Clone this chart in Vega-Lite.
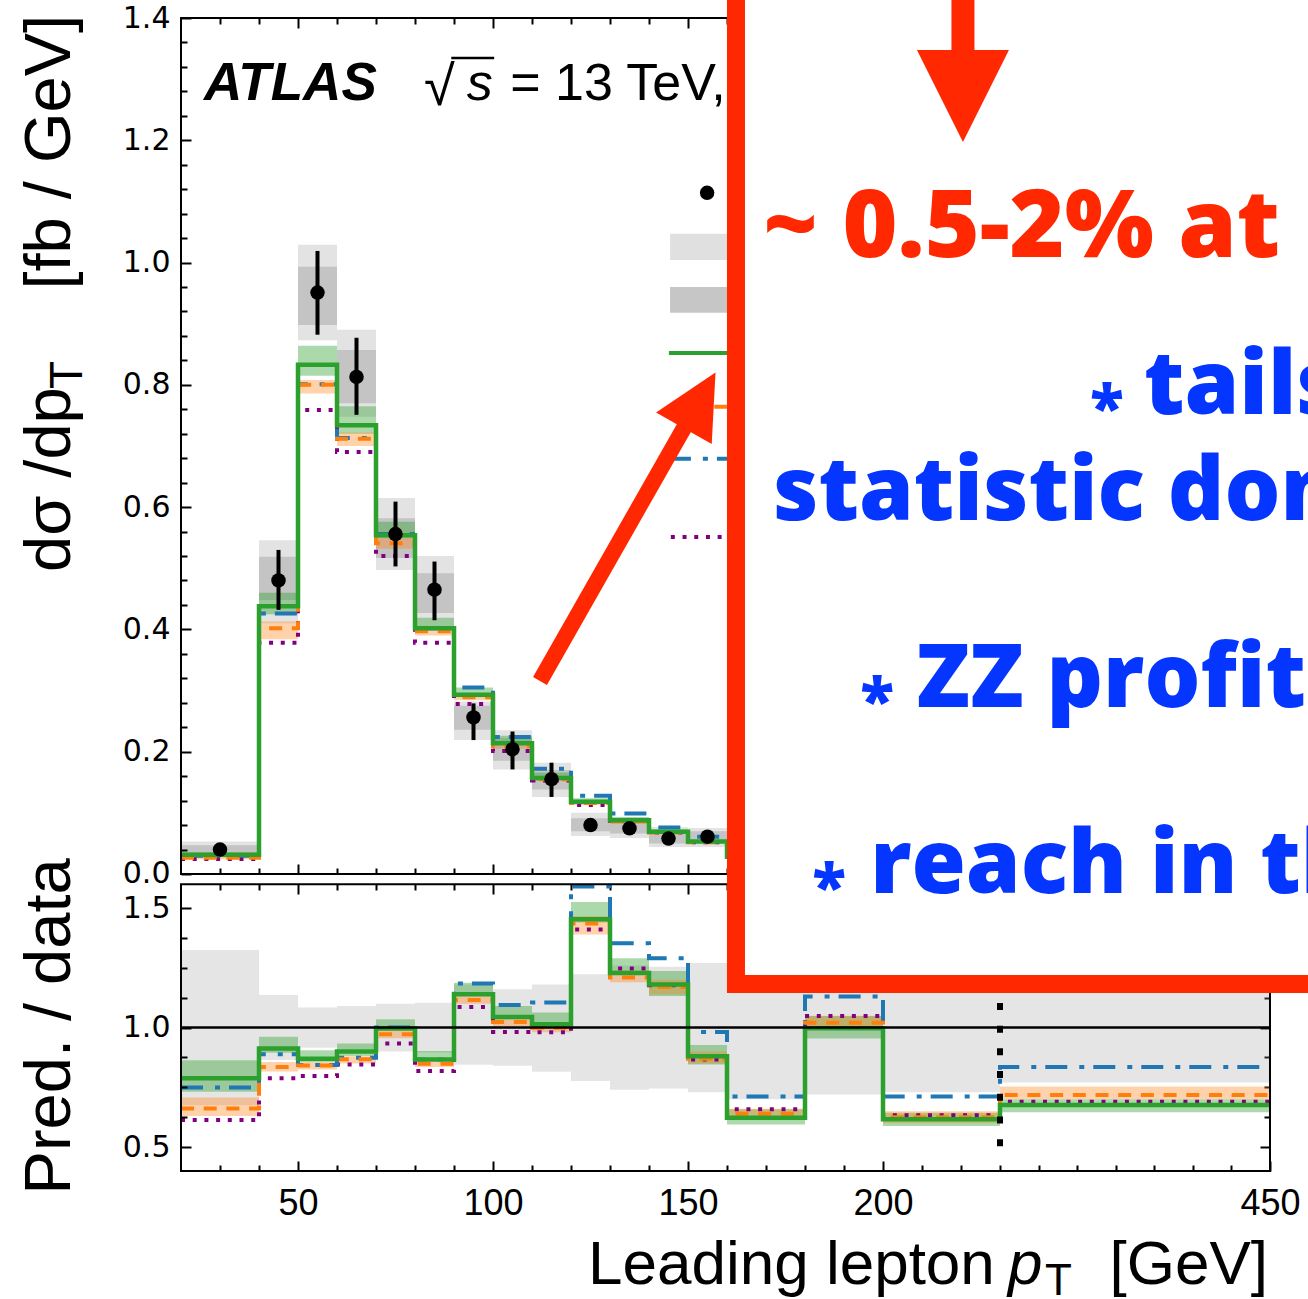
{
"$schema": "https://vega.github.io/schema/vega-lite/v6.json",
"width": 1089,
"height": 1153,
"autosize": {"type": "none"},
"padding": {"left": 181, "top": 18, "right": 38, "bottom": 128},
"background": "white",
"config": {
  "view": {"stroke": null},
  "axis": {"domain": false, "grid": false, "tickColor": "black", "tickWidth": 2, "labelColor": "black", "labelOverlap": false, "labelFlush": false, "labelBound": false}
},
"datasets": {
  "bins": [
    {"lo":20,"hi":40,"c":30,"d":0.040,"e0":0.036,"e1":0.044,"t0":0.027,"t1":0.053,"s0":0.033,"s1":0.047,"h0":0.675,"h1":1.325},
    {"lo":40,"hi":50,"c":45,"d":0.480,"e0":0.432,"e1":0.530,"t0":0.410,"t1":0.546,"s0":0.448,"s1":0.519,"h0":0.864,"h1":1.136},
    {"lo":50,"hi":60,"c":55,"d":0.951,"e0":0.882,"e1":1.019,"t0":0.873,"t1":1.029,"s0":0.898,"s1":0.993,"h0":0.916,"h1":1.084},
    {"lo":60,"hi":70,"c":65,"d":0.813,"e0":0.751,"e1":0.877,"t0":0.748,"t1":0.890,"s0":0.770,"s1":0.857,"h0":0.910,"h1":1.090},
    {"lo":70,"hi":80,"c":75,"d":0.556,"e0":0.503,"e1":0.609,"t0":0.497,"t1":0.615,"s0":0.517,"s1":0.582,"h0":0.900,"h1":1.100},
    {"lo":80,"hi":90,"c":85,"d":0.465,"e0":0.415,"e1":0.511,"t0":0.400,"t1":0.520,"s0":0.427,"s1":0.492,"h0":0.896,"h1":1.104},
    {"lo":90,"hi":100,"c":95,"d":0.256,"e0":0.219,"e1":0.279,"t0":0.219,"t1":0.282,"s0":0.236,"s1":0.275,"h0":0.845,"h1":1.180},
    {"lo":100,"hi":110,"c":105,"d":0.204,"e0":0.171,"e1":0.233,"t0":0.171,"t1":0.235,"s0":0.185,"s1":0.222,"h0":0.840,"h1":1.160},
    {"lo":110,"hi":120,"c":115,"d":0.155,"e0":0.126,"e1":0.182,"t0":0.126,"t1":0.182,"s0":0.138,"s1":0.170,"h0":0.815,"h1":1.180},
    {"lo":120,"hi":130,"c":125,"d":0.080,"e0":0.070,"e1":0.090,"t0":0.062,"t1":0.100,"s0":0.070,"s1":0.091,"h0":0.777,"h1":1.223},
    {"lo":130,"hi":140,"c":135,"d":0.0747,"e0":0.066,"e1":0.084,"t0":0.059,"t1":0.091,"s0":0.066,"s1":0.084,"h0":0.740,"h1":1.260},
    {"lo":140,"hi":150,"c":145,"d":0.058,"e0":0.052,"e1":0.064,"t0":0.044,"t1":0.077,"s0":0.050,"s1":0.068,"h0":0.745,"h1":1.255},
    {"lo":150,"hi":160,"c":155,"d":0.061,"e0":0.054,"e1":0.068,"t0":0.044,"t1":0.075,"s0":0.052,"s1":0.070,"h0":0.730,"h1":1.270},
    {"lo":160,"hi":180,"c":170,"d":0.045,"e0":0.039,"e1":0.051,"t0":0.031,"t1":0.059,"s0":0.038,"s1":0.053,"h0":0.700,"h1":1.300},
    {"lo":180,"hi":200,"c":190,"d":0.028,"e0":0.023,"e1":0.033,"t0":0.020,"t1":0.036,"s0":0.023,"s1":0.033,"h0":0.720,"h1":1.280},
    {"lo":200,"hi":230,"c":215,"d":0.020,"e0":0.016,"e1":0.024,"t0":0.014,"t1":0.026,"s0":0.016,"s1":0.024,"h0":0.730,"h1":1.270},
    {"lo":230,"hi":450,"c":340,"d":0.004,"e0":0.0033,"e1":0.0047,"t0":0.003,"t1":0.005,"s0":0.0034,"s1":0.0046,"h0":0.770,"h1":1.230}
  ],
  "pred": [
    {"m":"pred1","lo":20,"hi":40,"v":0.0315,"r":0.788,"vb0":0.029,"vb1":0.035,"rb0":0.732,"rb1":0.863},
    {"m":"pred1","lo":40,"hi":50,"v":0.438,"r":0.913,"vb0":0.425,"vb1":0.46,"rb0":0.895,"rb1":0.962},
    {"m":"pred1","lo":50,"hi":60,"v":0.833,"r":0.87,"vb0":0.815,"vb1":0.864,"rb0":0.855,"rb1":0.905},
    {"m":"pred1","lo":60,"hi":70,"v":0.734,"r":0.9,"vb0":0.72,"vb1":0.765,"rb0":0.881,"rb1":0.933},
    {"m":"pred1","lo":70,"hi":80,"v":0.554,"r":0.996,"vb0":0.55,"vb1":0.576,"rb0":0.996,"rb1":1.035},
    {"m":"pred1","lo":80,"hi":90,"v":0.402,"r":0.867,"vb0":0.399,"vb1":0.419,"rb0":0.86,"rb1":0.902},
    {"m":"pred1","lo":90,"hi":100,"v":0.293,"r":1.139,"vb0":0.289,"vb1":0.305,"rb0":1.132,"rb1":1.188},
    {"m":"pred1","lo":100,"hi":110,"v":0.214,"r":1.044,"vb0":0.211,"vb1":0.226,"rb0":1.035,"rb1":1.09},
    {"m":"pred1","lo":110,"hi":120,"v":0.157,"r":1.014,"vb0":0.154,"vb1":0.166,"rb0":1.007,"rb1":1.063},
    {"m":"pred1","lo":120,"hi":130,"v":0.118,"r":1.453,"vb0":0.115,"vb1":0.124,"rb0":1.44,"rb1":1.525},
    {"m":"pred1","lo":130,"hi":140,"v":0.088,"r":1.228,"vb0":0.086,"vb1":0.093,"rb0":1.22,"rb1":1.29},
    {"m":"pred1","lo":140,"hi":150,"v":0.069,"r":1.18,"vb0":0.067,"vb1":0.073,"rb0":1.132,"rb1":1.237},
    {"m":"pred1","lo":150,"hi":160,"v":0.053,"r":0.88,"vb0":0.051,"vb1":0.056,"rb0":0.846,"rb1":0.927},
    {"m":"pred1","lo":160,"hi":180,"v":0.028,"r":0.623,"vb0":0.027,"vb1":0.03,"rb0":0.595,"rb1":0.658},
    {"m":"pred1","lo":180,"hi":200,"v":0.028,"r":0.997,"vb0":0.027,"vb1":0.03,"rb0":0.954,"rb1":1.049},
    {"m":"pred1","lo":200,"hi":230,"v":0.0123,"r":0.616,"vb0":0.0118,"vb1":0.013,"rb0":0.588,"rb1":0.644},
    {"m":"pred1","lo":230,"hi":450,"v":0.0027,"r":0.676,"vb0":0.0026,"vb1":0.0029,"rb0":0.646,"rb1":0.7},
    {"m":"pred2","lo":20,"hi":40,"v":0.0264,"r":0.661,"vb0":0.024,"vb1":0.028,"rb0":0.63,"rb1":0.707},
    {"m":"pred2","lo":40,"hi":50,"v":0.402,"r":0.835,"vb0":0.384,"vb1":0.413,"rb0":0.816,"rb1":0.856},
    {"m":"pred2","lo":50,"hi":60,"v":0.8,"r":0.841,"vb0":0.786,"vb1":0.808,"rb0":0.825,"rb1":0.855},
    {"m":"pred2","lo":60,"hi":70,"v":0.712,"r":0.868,"vb0":0.7,"vb1":0.722,"rb0":0.85,"rb1":0.88},
    {"m":"pred2","lo":70,"hi":80,"v":0.541,"r":0.972,"vb0":0.532,"vb1":0.55,"rb0":0.955,"rb1":0.99},
    {"m":"pred2","lo":80,"hi":90,"v":0.397,"r":0.849,"vb0":0.39,"vb1":0.405,"rb0":0.835,"rb1":0.865},
    {"m":"pred2","lo":90,"hi":100,"v":0.289,"r":1.115,"vb0":0.284,"vb1":0.295,"rb0":1.1,"rb1":1.14},
    {"m":"pred2","lo":100,"hi":110,"v":0.209,"r":1.023,"vb0":0.205,"vb1":0.213,"rb0":1.005,"rb1":1.04},
    {"m":"pred2","lo":110,"hi":120,"v":0.155,"r":0.999,"vb0":0.152,"vb1":0.158,"rb0":0.98,"rb1":1.02},
    {"m":"pred2","lo":120,"hi":130,"v":0.116,"r":1.436,"vb0":0.113,"vb1":0.119,"rb0":1.39,"rb1":1.467},
    {"m":"pred2","lo":130,"hi":140,"v":0.086,"r":1.21,"vb0":0.084,"vb1":0.089,"rb0":1.19,"rb1":1.24},
    {"m":"pred2","lo":140,"hi":150,"v":0.068,"r":1.17,"vb0":0.066,"vb1":0.07,"rb0":1.14,"rb1":1.2},
    {"m":"pred2","lo":150,"hi":160,"v":0.052,"r":0.87,"vb0":0.05,"vb1":0.054,"rb0":0.85,"rb1":0.9},
    {"m":"pred2","lo":160,"hi":180,"v":0.0285,"r":0.64,"vb0":0.027,"vb1":0.03,"rb0":0.62,"rb1":0.66},
    {"m":"pred2","lo":180,"hi":200,"v":0.0286,"r":1.02,"vb0":0.027,"vb1":0.03,"rb0":0.99,"rb1":1.05},
    {"m":"pred2","lo":200,"hi":230,"v":0.0125,"r":0.625,"vb0":0.012,"vb1":0.013,"rb0":0.6,"rb1":0.65},
    {"m":"pred2","lo":230,"hi":450,"v":0.0029,"r":0.718,"vb0":0.0028,"vb1":0.003,"rb0":0.7,"rb1":0.754},
    {"m":"pred3","lo":20,"hi":40,"v":0.030,"r":0.749},
    {"m":"pred3","lo":40,"hi":50,"v":0.426,"r":0.888},
    {"m":"pred3","lo":50,"hi":60,"v":0.801,"r":0.844},
    {"m":"pred3","lo":60,"hi":70,"v":0.713,"r":0.874},
    {"m":"pred3","lo":70,"hi":80,"v":0.556,"r":1.0},
    {"m":"pred3","lo":80,"hi":90,"v":0.402,"r":0.866},
    {"m":"pred3","lo":90,"hi":100,"v":0.305,"r":1.184},
    {"m":"pred3","lo":100,"hi":110,"v":0.224,"r":1.095},
    {"m":"pred3","lo":110,"hi":120,"v":0.172,"r":1.105},
    {"m":"pred3","lo":120,"hi":130,"v":0.128,"r":1.59},
    {"m":"pred3","lo":130,"hi":140,"v":0.099,"r":1.353},
    {"m":"pred3","lo":140,"hi":150,"v":0.076,"r":1.29},
    {"m":"pred3","lo":150,"hi":160,"v":0.061,"r":0.982},
    {"m":"pred3","lo":160,"hi":180,"v":0.032,"r":0.712},
    {"m":"pred3","lo":180,"hi":200,"v":0.0316,"r":1.13},
    {"m":"pred3","lo":200,"hi":230,"v":0.0142,"r":0.712},
    {"m":"pred3","lo":230,"hi":450,"v":0.0033,"r":0.835},
    {"m":"pred4","lo":20,"hi":40,"v":0.0245,"r":0.613},
    {"m":"pred4","lo":40,"hi":50,"v":0.378,"r":0.788},
    {"m":"pred4","lo":50,"hi":60,"v":0.759,"r":0.797},
    {"m":"pred4","lo":60,"hi":70,"v":0.69,"r":0.846},
    {"m":"pred4","lo":70,"hi":80,"v":0.52,"r":0.933},
    {"m":"pred4","lo":80,"hi":90,"v":0.378,"r":0.818},
    {"m":"pred4","lo":90,"hi":100,"v":0.278,"r":1.086},
    {"m":"pred4","lo":100,"hi":110,"v":0.201,"r":0.982},
    {"m":"pred4","lo":110,"hi":120,"v":0.153,"r":0.98},
    {"m":"pred4","lo":120,"hi":130,"v":0.113,"r":1.41},
    {"m":"pred4","lo":130,"hi":140,"v":0.087,"r":1.247},
    {"m":"pred4","lo":140,"hi":150,"v":0.068,"r":1.177},
    {"m":"pred4","lo":150,"hi":160,"v":0.052,"r":0.867},
    {"m":"pred4","lo":160,"hi":180,"v":0.029,"r":0.658},
    {"m":"pred4","lo":180,"hi":200,"v":0.0294,"r":1.049},
    {"m":"pred4","lo":200,"hi":230,"v":0.0127,"r":0.633},
    {"m":"pred4","lo":230,"hi":450,"v":0.003,"r":0.69}
  ]
},
"resolve": {"scale": {"y": "independent"}, "axis": {"x": "independent", "y": "independent"}},
"layer": [
  {"data": {"name": "bins"},
   "mark": {"type": "rect", "fill": "#999999", "fillOpacity": 0.26, "strokeWidth": 0},
   "encoding": {
     "x": {"field": "lo", "type": "quantitative", "scale": {"domain": [20,230,450], "range": [0,819,1089], "nice": false, "zero": false},
           "axis": {"orient": "bottom", "values": [50,100,150,200,450], "tickSize": -10, "labelPadding": 25, "labelFont": "Liberation Sans", "labelFontSize": 36, "title": null, "zindex": 1}},
     "x2": {"field": "hi"},
     "y": {"field": "h0", "type": "quantitative", "scale": {"domain": [0.4,5.224], "nice": false, "zero": false},
           "axis": {"orient": "left", "values": [0.5,1.0,1.5], "format": ".1f", "tickSize": -10, "labelPadding": 21, "labelFont": "DejaVu Sans", "labelFontSize": 30, "title": null, "zindex": 1}},
     "y2": {"field": "h1"}}},
  {"data": {"name": "pred"}, "transform": [{"filter": "datum.m === 'pred1'"}],
   "mark": {"type": "rect", "fill": "#2ca02c", "fillOpacity": 0.4, "strokeWidth": 0},
   "encoding": {
     "x": {"field": "lo", "type": "quantitative", "scale": {"domain": [20,230,450], "range": [0,819,1089], "nice": false, "zero": false},
           "axis": {"orient": "bottom", "values": [30,40,60,70,80,90,110,120,130,140,160,170,180,190,210,220,230,261.43,292.86,324.29,355.71,387.14,418.57], "tickSize": -6, "labels": false, "title": null, "zindex": 1}},
     "x2": {"field": "hi"},
     "y": {"field": "rb0", "type": "quantitative", "scale": {"domain": [0.4,5.224], "nice": false, "zero": false},
           "axis": {"orient": "left", "values": [0.625,0.75,0.875,1.125,1.25,1.375], "tickSize": -6, "labels": false, "title": null, "zindex": 1}},
     "y2": {"field": "rb1"}}},
  {"data": {"name": "pred"}, "transform": [{"filter": "datum.m === 'pred2'"}],
   "mark": {"type": "rect", "fill": "#ff7f0e", "fillOpacity": 0.35, "strokeWidth": 0},
   "encoding": {
     "x": {"field": "lo", "type": "quantitative", "scale": {"domain": [20,230,450], "range": [0,819,1089], "nice": false, "zero": false},
           "axis": {"orient": "top", "offset": -866, "values": [50,100,150,200,450], "tickSize": -10, "labels": false, "title": null, "zindex": 0}},
     "x2": {"field": "hi"},
     "y": {"field": "rb0", "type": "quantitative", "scale": {"domain": [0.4,5.224], "nice": false, "zero": false},
           "axis": {"orient": "right", "values": [0.5,1.0,1.5], "tickSize": -10, "labels": false, "title": null, "zindex": 0}},
     "y2": {"field": "rb1"}}},
  {"data": {"name": "pred"}, "transform": [{"filter": "datum.m === 'pred4'"}, {"fold": ["lo","hi"], "as": ["edge","x"]}],
   "mark": {"type": "line", "color": "#800080", "strokeWidth": 4, "strokeDash": [4,7.7], "strokeCap": "butt"},
   "encoding": {
     "x": {"field": "x", "type": "quantitative", "scale": {"domain": [20,230,450], "range": [0,819,1089], "nice": false, "zero": false},
           "axis": {"orient": "top", "offset": -866, "values": [30,40,60,70,80,90,110,120,130,140,160,170,180,190,210,220,230,261.43,292.86,324.29,355.71,387.14,418.57], "tickSize": -6, "labels": false, "title": null, "zindex": 0}},
     "y": {"field": "r", "type": "quantitative", "scale": {"domain": [0.4,5.224], "nice": false, "zero": false},
           "axis": {"orient": "right", "values": [0.625,0.75,0.875,1.125,1.25,1.375], "tickSize": -6, "labels": false, "title": null, "zindex": 0}}}},
  {"data": {"name": "pred"}, "transform": [{"filter": "datum.m === 'pred3'"}, {"fold": ["lo","hi"], "as": ["edge","x"]}],
   "mark": {"type": "line", "color": "#1f77b4", "strokeWidth": 4, "strokeDash": [22,12,5,9], "strokeCap": "butt"},
   "encoding": {
     "x": {"field": "x", "type": "quantitative", "scale": {"domain": [20,230,450], "range": [0,819,1089], "nice": false, "zero": false},
           "axis": {"orient": "bottom", "offset": -297, "values": [50,100,150,200,450], "tickSize": -10, "labels": false, "title": null, "zindex": 0}},
     "y": {"field": "r", "type": "quantitative", "scale": {"domain": [0.4,5.224], "nice": false, "zero": false}, "axis": null}}},
  {"data": {"name": "pred"}, "transform": [{"filter": "datum.m === 'pred2'"}, {"fold": ["lo","hi"], "as": ["edge","x"]}],
   "mark": {"type": "line", "color": "#ff7f0e", "strokeWidth": 4, "strokeDash": [13,9.7], "strokeCap": "butt"},
   "encoding": {
     "x": {"field": "x", "type": "quantitative", "scale": {"domain": [20,230,450], "range": [0,819,1089], "nice": false, "zero": false},
           "axis": {"orient": "bottom", "offset": -297, "values": [30,40,60,70,80,90,110,120,130,140,160,170,180,190,210,220,230,261.43,292.86,324.29,355.71,387.14,418.57], "tickSize": -6, "labels": false, "title": null, "zindex": 0}},
     "y": {"field": "r", "type": "quantitative", "scale": {"domain": [0.4,5.224], "nice": false, "zero": false}, "axis": null}}},
  {"data": {"name": "pred"}, "transform": [{"filter": "datum.m === 'pred1'"}, {"fold": ["lo","hi"], "as": ["edge","x"]}],
   "mark": {"type": "line", "color": "#2ca02c", "strokeWidth": 4.5},
   "encoding": {
     "x": {"field": "x", "type": "quantitative", "scale": {"domain": [20,230,450], "range": [0,819,1089], "nice": false, "zero": false},
           "axis": {"orient": "top", "offset": 0, "values": [50,100,150,200,450], "tickSize": -10, "labels": false, "title": null, "zindex": 0}},
     "y": {"field": "r", "type": "quantitative", "scale": {"domain": [0.4,5.224], "nice": false, "zero": false}, "axis": null}}},
  {"data": {"values": [{}]},
   "mark": {"type": "rule", "color": "black", "strokeWidth": 2.5},
   "encoding": {
     "x": {"datum": 20, "type": "quantitative", "scale": {"domain": [20,230,450], "range": [0,819,1089], "nice": false, "zero": false}, "axis": null},
     "x2": {"datum": 450},
     "y": {"datum": 1.0, "type": "quantitative", "scale": {"domain": [0.4,5.224], "nice": false, "zero": false}, "axis": null}}},
  {"data": {"values": [{}]},
   "mark": {"type": "rule", "color": "black", "strokeWidth": 6, "strokeDash": [7,15.7], "strokeCap": "butt"},
   "encoding": {
     "x": {"datum": 230, "type": "quantitative", "scale": {"domain": [20,230,450], "range": [0,819,1089], "nice": false, "zero": false}, "axis": null},
     "y": {"datum": 0.504, "type": "quantitative", "scale": {"domain": [0.4,5.224], "nice": false, "zero": false}, "axis": null},
     "y2": {"datum": 1.6}}},
  {"data": {"name": "bins"},
   "mark": {"type": "rect", "fill": "#999999", "fillOpacity": 0.28, "strokeWidth": 0},
   "encoding": {
     "x": {"field": "lo", "type": "quantitative", "scale": {"domain": [20,230,450], "range": [0,819,1089], "nice": false, "zero": false},
           "axis": {"orient": "top", "offset": 0, "values": [30,40,60,70,80,90,110,120,130,140,160,170,180,190,210,220,230,261.43,292.86,324.29,355.71,387.14,418.57], "tickSize": -6, "labels": false, "title": null, "zindex": 0}},
     "x2": {"field": "hi"},
     "y": {"field": "t0", "type": "quantitative", "scale": {"domain": [-0.4858,1.4], "nice": false, "zero": false},
           "axis": {"orient": "left", "values": [0,0.2,0.4,0.6,0.8,1.0,1.2,1.4], "format": ".1f", "tickSize": -10, "labelPadding": 21, "labelFont": "DejaVu Sans", "labelFontSize": 30, "title": null, "zindex": 1}},
     "y2": {"field": "t1"}}},
  {"data": {"name": "bins"},
   "mark": {"type": "rect", "fill": "#666666", "fillOpacity": 0.25, "strokeWidth": 0},
   "encoding": {
     "x": {"field": "lo", "type": "quantitative", "scale": {"domain": [20,230,450], "range": [0,819,1089], "nice": false, "zero": false}, "axis": null},
     "x2": {"field": "hi"},
     "y": {"field": "s0", "type": "quantitative", "scale": {"domain": [-0.4858,1.4], "nice": false, "zero": false},
           "axis": {"orient": "left", "values": [0.04,0.08,0.12,0.16,0.24,0.28,0.32,0.36,0.44,0.48,0.52,0.56,0.64,0.68,0.72,0.76,0.84,0.88,0.92,0.96,1.04,1.08,1.12,1.16,1.24,1.28,1.32,1.36], "tickSize": -6, "labels": false, "title": null, "zindex": 1}},
     "y2": {"field": "s1"}}},
  {"data": {"name": "pred"}, "transform": [{"filter": "datum.m === 'pred1'"}],
   "mark": {"type": "rect", "fill": "#2ca02c", "fillOpacity": 0.4, "strokeWidth": 0},
   "encoding": {
     "x": {"field": "lo", "type": "quantitative", "scale": {"domain": [20,230,450], "range": [0,819,1089], "nice": false, "zero": false}, "axis": null},
     "x2": {"field": "hi"},
     "y": {"field": "vb0", "type": "quantitative", "scale": {"domain": [-0.4858,1.4], "nice": false, "zero": false}, "axis": null},
     "y2": {"field": "vb1"}}},
  {"data": {"name": "pred"}, "transform": [{"filter": "datum.m === 'pred2'"}],
   "mark": {"type": "rect", "fill": "#ff7f0e", "fillOpacity": 0.35, "strokeWidth": 0},
   "encoding": {
     "x": {"field": "lo", "type": "quantitative", "scale": {"domain": [20,230,450], "range": [0,819,1089], "nice": false, "zero": false}, "axis": null},
     "x2": {"field": "hi"},
     "y": {"field": "vb0", "type": "quantitative", "scale": {"domain": [-0.4858,1.4], "nice": false, "zero": false}, "axis": null},
     "y2": {"field": "vb1"}}},
  {"data": {"name": "pred"}, "transform": [{"filter": "datum.m === 'pred4'"}, {"fold": ["lo","hi"], "as": ["edge","x"]}],
   "mark": {"type": "line", "color": "#800080", "strokeWidth": 4, "strokeDash": [4,7.7], "strokeCap": "butt"},
   "encoding": {
     "x": {"field": "x", "type": "quantitative", "scale": {"domain": [20,230,450], "range": [0,819,1089], "nice": false, "zero": false}, "axis": null},
     "y": {"field": "v", "type": "quantitative", "scale": {"domain": [-0.4858,1.4], "nice": false, "zero": false}, "axis": null}}},
  {"data": {"name": "pred"}, "transform": [{"filter": "datum.m === 'pred3'"}, {"fold": ["lo","hi"], "as": ["edge","x"]}],
   "mark": {"type": "line", "color": "#1f77b4", "strokeWidth": 4, "strokeDash": [22,12,5,9], "strokeCap": "butt"},
   "encoding": {
     "x": {"field": "x", "type": "quantitative", "scale": {"domain": [20,230,450], "range": [0,819,1089], "nice": false, "zero": false}, "axis": null},
     "y": {"field": "v", "type": "quantitative", "scale": {"domain": [-0.4858,1.4], "nice": false, "zero": false}, "axis": null}}},
  {"data": {"name": "pred"}, "transform": [{"filter": "datum.m === 'pred2'"}, {"fold": ["lo","hi"], "as": ["edge","x"]}],
   "mark": {"type": "line", "color": "#ff7f0e", "strokeWidth": 4, "strokeDash": [13,9.7], "strokeCap": "butt"},
   "encoding": {
     "x": {"field": "x", "type": "quantitative", "scale": {"domain": [20,230,450], "range": [0,819,1089], "nice": false, "zero": false}, "axis": null},
     "y": {"field": "v", "type": "quantitative", "scale": {"domain": [-0.4858,1.4], "nice": false, "zero": false}, "axis": null}}},
  {"data": {"name": "pred"}, "transform": [{"filter": "datum.m === 'pred1'"}, {"fold": ["lo","hi"], "as": ["edge","x"]}],
   "mark": {"type": "line", "color": "#2ca02c", "strokeWidth": 4.5},
   "encoding": {
     "x": {"field": "x", "type": "quantitative", "scale": {"domain": [20,230,450], "range": [0,819,1089], "nice": false, "zero": false}, "axis": null},
     "y": {"field": "v", "type": "quantitative", "scale": {"domain": [-0.4858,1.4], "nice": false, "zero": false}, "axis": null}}},
  {"data": {"name": "bins"},
   "mark": {"type": "rule", "color": "black", "strokeWidth": 4},
   "encoding": {
     "x": {"field": "c", "type": "quantitative", "scale": {"domain": [20,230,450], "range": [0,819,1089], "nice": false, "zero": false}, "axis": null},
     "y": {"field": "e0", "type": "quantitative", "scale": {"domain": [-0.4858,1.4], "nice": false, "zero": false}, "axis": null},
     "y2": {"field": "e1"}}},
  {"data": {"name": "bins"},
   "mark": {"type": "point", "filled": true, "color": "black", "opacity": 1, "size": 210},
   "encoding": {
     "x": {"field": "c", "type": "quantitative", "scale": {"domain": [20,230,450], "range": [0,819,1089], "nice": false, "zero": false}, "axis": null},
     "y": {"field": "d", "type": "quantitative", "scale": {"domain": [-0.4858,1.4], "nice": false, "zero": false}, "axis": null}}},
  {"data": {"values": [{}]},
   "mark": {"type": "point", "filled": true, "color": "black", "opacity": 1, "size": 210},
   "encoding": {
     "x": {"datum": 154.9, "type": "quantitative", "scale": {"domain": [20,230,450], "range": [0,819,1089], "nice": false, "zero": false}, "axis": null},
     "y": {"datum": 1.114, "type": "quantitative", "scale": {"domain": [-0.4858,1.4], "nice": false, "zero": false}, "axis": null}}},
  {"data": {"values": [{}]},
   "mark": {"type": "rect", "fill": "#999999", "fillOpacity": 0.3, "strokeWidth": 0},
   "encoding": {
     "x": {"datum": 145.4, "type": "quantitative", "scale": {"domain": [20,230,450], "range": [0,819,1089], "nice": false, "zero": false}, "axis": null},
     "x2": {"datum": 170},
     "y": {"datum": 1.004, "type": "quantitative", "scale": {"domain": [-0.4858,1.4], "nice": false, "zero": false}, "axis": null},
     "y2": {"datum": 1.047}}},
  {"data": {"values": [{}]},
   "mark": {"type": "rect", "fill": "#777777", "fillOpacity": 0.42, "strokeWidth": 0},
   "encoding": {
     "x": {"datum": 145.4, "type": "quantitative", "scale": {"domain": [20,230,450], "range": [0,819,1089], "nice": false, "zero": false}, "axis": null},
     "x2": {"datum": 170},
     "y": {"datum": 0.918, "type": "quantitative", "scale": {"domain": [-0.4858,1.4], "nice": false, "zero": false}, "axis": null},
     "y2": {"datum": 0.96}}},
  {"data": {"values": [{}]},
   "mark": {"type": "rule", "color": "#2ca02c", "strokeWidth": 4},
   "encoding": {
     "x": {"datum": 145.1, "type": "quantitative", "scale": {"domain": [20,230,450], "range": [0,819,1089], "nice": false, "zero": false}, "axis": null},
     "x2": {"datum": 170},
     "y": {"datum": 0.852, "type": "quantitative", "scale": {"domain": [-0.4858,1.4], "nice": false, "zero": false}, "axis": null}}},
  {"data": {"values": [{}]},
   "mark": {"type": "rule", "color": "#ff7f0e", "strokeWidth": 4, "strokeDash": [13,9.7], "strokeCap": "butt"},
   "encoding": {
     "x": {"datum": 145.1, "type": "quantitative", "scale": {"domain": [20,230,450], "range": [0,819,1089], "nice": false, "zero": false}, "axis": null},
     "x2": {"datum": 170},
     "y": {"datum": 0.764, "type": "quantitative", "scale": {"domain": [-0.4858,1.4], "nice": false, "zero": false}, "axis": null}}},
  {"data": {"values": [{}]},
   "mark": {"type": "rule", "color": "#1f77b4", "strokeWidth": 4, "strokeDash": [22,12,5,9], "strokeCap": "butt"},
   "encoding": {
     "x": {"datum": 145.1, "type": "quantitative", "scale": {"domain": [20,230,450], "range": [0,819,1089], "nice": false, "zero": false}, "axis": null},
     "x2": {"datum": 170},
     "y": {"datum": 0.679, "type": "quantitative", "scale": {"domain": [-0.4858,1.4], "nice": false, "zero": false}, "axis": null}}},
  {"data": {"values": [{}]},
   "mark": {"type": "rule", "color": "#800080", "strokeWidth": 4, "strokeDash": [4,7.7], "strokeCap": "butt"},
   "encoding": {
     "x": {"datum": 145.6, "type": "quantitative", "scale": {"domain": [20,230,450], "range": [0,819,1089], "nice": false, "zero": false}, "axis": null},
     "x2": {"datum": 170},
     "y": {"datum": 0.551, "type": "quantitative", "scale": {"domain": [-0.4858,1.4], "nice": false, "zero": false}, "axis": null}}},
  {"data": {"values": [{}]},
   "mark": {"type": "text", "text": "ATLAS", "font": "Liberation Sans", "fontSize": 53, "fontWeight": "bold", "fontStyle": "italic", "align": "left", "baseline": "alphabetic", "color": "black"},
   "encoding": {
     "x": {"datum": 25.9, "type": "quantitative", "scale": {"domain": [20,230,450], "range": [0,819,1089], "nice": false, "zero": false}, "axis": null},
     "y": {"datum": 1.266, "type": "quantitative", "scale": {"domain": [-0.4858,1.4], "nice": false, "zero": false}, "axis": null}}},
  {"data": {"values": [{}]},
   "mark": {"type": "text", "text": "√", "font": "Liberation Sans", "fontSize": 56, "align": "left", "baseline": "alphabetic", "color": "black"},
   "encoding": {
     "x": {"datum": 82.3, "type": "quantitative", "scale": {"domain": [20,230,450], "range": [0,819,1089], "nice": false, "zero": false}, "axis": null},
     "y": {"datum": 1.258, "type": "quantitative", "scale": {"domain": [-0.4858,1.4], "nice": false, "zero": false}, "axis": null}}},
  {"data": {"values": [{}]},
   "mark": {"type": "rule", "color": "black", "strokeWidth": 2.5},
   "encoding": {
     "x": {"datum": 89.3, "type": "quantitative", "scale": {"domain": [20,230,450], "range": [0,819,1089], "nice": false, "zero": false}, "axis": null},
     "x2": {"datum": 100.3},
     "y": {"datum": 1.3346, "type": "quantitative", "scale": {"domain": [-0.4858,1.4], "nice": false, "zero": false}, "axis": null}}},
  {"data": {"values": [{}]},
   "mark": {"type": "text", "text": "s", "font": "Liberation Sans", "fontSize": 52, "fontStyle": "italic", "align": "left", "baseline": "alphabetic", "color": "black"},
   "encoding": {
     "x": {"datum": 93.3, "type": "quantitative", "scale": {"domain": [20,230,450], "range": [0,819,1089], "nice": false, "zero": false}, "axis": null},
     "y": {"datum": 1.266, "type": "quantitative", "scale": {"domain": [-0.4858,1.4], "nice": false, "zero": false}, "axis": null}}},
  {"data": {"values": [{}]},
   "mark": {"type": "text", "text": "= 13 TeV,", "font": "Liberation Sans", "fontSize": 52, "align": "left", "baseline": "alphabetic", "color": "black"},
   "encoding": {
     "x": {"datum": 104.4, "type": "quantitative", "scale": {"domain": [20,230,450], "range": [0,819,1089], "nice": false, "zero": false}, "axis": null},
     "y": {"datum": 1.266, "type": "quantitative", "scale": {"domain": [-0.4858,1.4], "nice": false, "zero": false}, "axis": null}}},
  {"data": {"values": [{}]},
   "mark": {"type": "text", "text": "dσ /dp", "font": "Liberation Sans", "fontSize": 65, "angle": 270, "align": "left", "baseline": "alphabetic", "color": "black"},
   "encoding": {
     "x": {"datum": -8.46, "type": "quantitative", "scale": {"domain": [20,230,450], "range": [0,819,1089], "nice": false, "zero": false}, "axis": null},
     "y": {"datum": 0.4939, "type": "quantitative", "scale": {"domain": [-0.4858,1.4], "nice": false, "zero": false}, "axis": null}}},
  {"data": {"values": [{}]},
   "mark": {"type": "text", "text": "T", "font": "Liberation Sans", "fontSize": 46, "angle": 270, "align": "left", "baseline": "alphabetic", "dy": 12, "color": "black"},
   "encoding": {
     "x": {"datum": -8.46, "type": "quantitative", "scale": {"domain": [20,230,450], "range": [0,819,1089], "nice": false, "zero": false}, "axis": null},
     "y": {"datum": 0.7933, "type": "quantitative", "scale": {"domain": [-0.4858,1.4], "nice": false, "zero": false}, "axis": null}}},
  {"data": {"values": [{}]},
   "mark": {"type": "text", "text": "[fb / GeV]", "font": "Liberation Sans", "fontSize": 65, "angle": 270, "align": "right", "baseline": "alphabetic", "color": "black"},
   "encoding": {
     "x": {"datum": -8.46, "type": "quantitative", "scale": {"domain": [20,230,450], "range": [0,819,1089], "nice": false, "zero": false}, "axis": null},
     "y": {"datum": 1.405, "type": "quantitative", "scale": {"domain": [-0.4858,1.4], "nice": false, "zero": false}, "axis": null}}},
  {"data": {"values": [{}]},
   "mark": {"type": "text", "text": "Pred. / data", "font": "Liberation Sans", "fontSize": 65, "angle": 270, "align": "center", "baseline": "alphabetic", "color": "black"},
   "encoding": {
     "x": {"datum": -8.46, "type": "quantitative", "scale": {"domain": [20,230,450], "range": [0,819,1089], "nice": false, "zero": false}, "axis": null},
     "y": {"datum": 1.005, "type": "quantitative", "scale": {"domain": [0.4,5.224], "nice": false, "zero": false}, "axis": null}}},
  {"data": {"values": [{}]},
   "mark": {"type": "text", "text": "Leading lepton", "font": "Liberation Sans", "fontSize": 62, "align": "left", "baseline": "alphabetic", "color": "black"},
   "encoding": {
     "x": {"datum": 124.36, "type": "quantitative", "scale": {"domain": [20,230,450], "range": [0,819,1089], "nice": false, "zero": false}, "axis": null},
     "y": {"datum": -0.0741, "type": "quantitative", "scale": {"domain": [0.4,5.224], "nice": false, "zero": false}, "axis": null}}},
  {"data": {"values": [{}]},
   "mark": {"type": "text", "text": "p", "font": "Liberation Sans", "fontSize": 62, "fontStyle": "italic", "align": "left", "baseline": "alphabetic", "color": "black"},
   "encoding": {
     "x": {"datum": 236.5, "type": "quantitative", "scale": {"domain": [20,230,450], "range": [0,819,1089], "nice": false, "zero": false}, "axis": null},
     "y": {"datum": -0.0741, "type": "quantitative", "scale": {"domain": [0.4,5.224], "nice": false, "zero": false}, "axis": null}}},
  {"data": {"values": [{}]},
   "mark": {"type": "text", "text": "T", "font": "Liberation Sans", "fontSize": 44, "align": "left", "baseline": "alphabetic", "dy": 11, "color": "black"},
   "encoding": {
     "x": {"datum": 266.6, "type": "quantitative", "scale": {"domain": [20,230,450], "range": [0,819,1089], "nice": false, "zero": false}, "axis": null},
     "y": {"datum": -0.0741, "type": "quantitative", "scale": {"domain": [0.4,5.224], "nice": false, "zero": false}, "axis": null}}},
  {"data": {"values": [{}]},
   "mark": {"type": "text", "text": "[GeV]", "font": "Liberation Sans", "fontSize": 62, "align": "right", "baseline": "alphabetic", "color": "black"},
   "encoding": {
     "x": {"datum": 448.4, "type": "quantitative", "scale": {"domain": [20,230,450], "range": [0,819,1089], "nice": false, "zero": false}, "axis": null},
     "y": {"datum": -0.0741, "type": "quantitative", "scale": {"domain": [0.4,5.224], "nice": false, "zero": false}, "axis": null}}},
  {"data": {"values": [{}]},
   "mark": {"type": "rect", "fillOpacity": 0, "stroke": "black", "strokeWidth": 2},
   "encoding": {
     "x": {"datum": 20, "type": "quantitative", "scale": {"domain": [20,230,450], "range": [0,819,1089], "nice": false, "zero": false}, "axis": null},
     "x2": {"datum": 450},
     "y": {"datum": 0, "type": "quantitative", "scale": {"domain": [-0.4858,1.4], "nice": false, "zero": false}, "axis": null},
     "y2": {"datum": 1.4}}},
  {"data": {"values": [{}]},
   "mark": {"type": "rect", "fillOpacity": 0, "stroke": "black", "strokeWidth": 2},
   "encoding": {
     "x": {"datum": 20, "type": "quantitative", "scale": {"domain": [20,230,450], "range": [0,819,1089], "nice": false, "zero": false}, "axis": null},
     "x2": {"datum": 450},
     "y": {"datum": 0.4, "type": "quantitative", "scale": {"domain": [0.4,5.224], "nice": false, "zero": false}, "axis": null},
     "y2": {"datum": 1.6}}},
  {"data": {"values": [{}]},
   "mark": {"type": "rect", "fill": "white", "stroke": "#ff2800", "strokeWidth": 18},
   "encoding": {
     "x": {"datum": 162.3, "type": "quantitative", "scale": {"domain": [20,230,450], "range": [0,819,1089], "nice": false, "zero": false}, "axis": null},
     "x2": {"datum": 700},
     "y": {"datum": -0.1799, "type": "quantitative", "scale": {"domain": [-0.4858,1.4], "nice": false, "zero": false}, "axis": null},
     "y2": {"datum": 2.0}}},
  {"data": {"values": [{}]},
   "mark": {"type": "rule", "color": "#ff2800", "strokeWidth": 23, "strokeCap": "butt"},
   "encoding": {
     "x": {"datum": 220.5, "type": "quantitative", "scale": {"domain": [20,230,450], "range": [0,819,1089], "nice": false, "zero": false}, "axis": null},
     "y": {"datum": 1.331, "type": "quantitative", "scale": {"domain": [-0.4858,1.4], "nice": false, "zero": false}, "axis": null},
     "y2": {"datum": 1.6}}},
  {"data": {"values": [{}]},
   "mark": {"type": "point", "shape": "M-1,-1L1,-1L0,1Z", "filled": true, "color": "#ff2800", "opacity": 1, "size": 8464, "strokeWidth": 0},
   "encoding": {
     "x": {"datum": 220.5, "type": "quantitative", "scale": {"domain": [20,230,450], "range": [0,819,1089], "nice": false, "zero": false}, "axis": null},
     "y": {"datum": 1.2725, "type": "quantitative", "scale": {"domain": [-0.4858,1.4], "nice": false, "zero": false}, "axis": null}}},
  {"data": {"values": [{}]},
   "mark": {"type": "rule", "color": "#ff2800", "strokeWidth": 16, "strokeCap": "butt"},
   "encoding": {
     "x": {"datum": 112.05, "type": "quantitative", "scale": {"domain": [20,230,450], "range": [0,819,1089], "nice": false, "zero": false}, "axis": null},
     "x2": {"datum": 151.0},
     "y": {"datum": 0.3157, "type": "quantitative", "scale": {"domain": [-0.4858,1.4], "nice": false, "zero": false}, "axis": null},
     "y2": {"datum": 0.7524}}},
  {"data": {"values": [{}]},
   "mark": {"type": "point", "shape": "M0,-1L-1,1L1,1Z", "angle": 29.6, "filled": true, "color": "#ff2800", "opacity": 1, "size": 4096, "strokeWidth": 0},
   "encoding": {
     "x": {"datum": 153.0, "type": "quantitative", "scale": {"domain": [20,230,450], "range": [0,819,1089], "nice": false, "zero": false}, "axis": null},
     "y": {"datum": 0.7746, "type": "quantitative", "scale": {"domain": [-0.4858,1.4], "nice": false, "zero": false}, "axis": null}}},
  {"data": {"values": [{}]},
   "mark": {"type": "text", "text": "~ 0.5-2% at", "font": "Open Sans", "fontSize": 94, "fontWeight": 800, "align": "left", "baseline": "alphabetic", "color": "#ff2800"},
   "encoding": {
     "x": {"datum": 169.2, "type": "quantitative", "scale": {"domain": [20,230,450], "range": [0,819,1089], "nice": false, "zero": false}, "axis": null},
     "y": {"datum": 1.0092, "type": "quantitative", "scale": {"domain": [-0.4858,1.4], "nice": false, "zero": false}, "axis": null}}},
  {"data": {"values": [{}]},
   "mark": {"type": "text", "text": "*", "font": "Open Sans", "fontSize": 62, "fontWeight": 800, "align": "center", "baseline": "alphabetic", "color": "#0536ff"},
   "encoding": {
     "x": {"datum": 317.2, "type": "quantitative", "scale": {"domain": [20,230,450], "range": [0,819,1089], "nice": false, "zero": false}, "axis": null},
     "y": {"datum": 0.7278, "type": "quantitative", "scale": {"domain": [-0.4858,1.4], "nice": false, "zero": false}, "axis": null}}},
  {"data": {"values": [{}]},
   "mark": {"type": "text", "text": "tails", "font": "Open Sans", "fontSize": 88, "fontWeight": 800, "align": "left", "baseline": "alphabetic", "color": "#0536ff"},
   "encoding": {
     "x": {"datum": 347.3, "type": "quantitative", "scale": {"domain": [20,230,450], "range": [0,819,1089], "nice": false, "zero": false}, "axis": null},
     "y": {"datum": 0.7524, "type": "quantitative", "scale": {"domain": [-0.4858,1.4], "nice": false, "zero": false}, "axis": null}}},
  {"data": {"values": [{}]},
   "mark": {"type": "text", "text": "statistic dominated", "font": "Open Sans", "fontSize": 88, "fontWeight": 800, "align": "left", "baseline": "alphabetic", "color": "#0536ff"},
   "encoding": {
     "x": {"datum": 171.8, "type": "quantitative", "scale": {"domain": [20,230,450], "range": [0,819,1089], "nice": false, "zero": false}, "axis": null},
     "y": {"datum": 0.579, "type": "quantitative", "scale": {"domain": [-0.4858,1.4], "nice": false, "zero": false}, "axis": null}}},
  {"data": {"values": [{}]},
   "mark": {"type": "text", "text": "*", "font": "Open Sans", "fontSize": 62, "fontWeight": 800, "align": "center", "baseline": "alphabetic", "color": "#0536ff"},
   "encoding": {
     "x": {"datum": 198.5, "type": "quantitative", "scale": {"domain": [20,230,450], "range": [0,819,1089], "nice": false, "zero": false}, "axis": null},
     "y": {"datum": 0.2486, "type": "quantitative", "scale": {"domain": [-0.4858,1.4], "nice": false, "zero": false}, "axis": null}}},
  {"data": {"values": [{}]},
   "mark": {"type": "text", "text": "ZZ profits", "font": "Open Sans", "fontSize": 88, "fontWeight": 800, "align": "left", "baseline": "alphabetic", "color": "#0536ff"},
   "encoding": {
     "x": {"datum": 208.5, "type": "quantitative", "scale": {"domain": [20,230,450], "range": [0,819,1089], "nice": false, "zero": false}, "axis": null},
     "y": {"datum": 0.2731, "type": "quantitative", "scale": {"domain": [-0.4858,1.4], "nice": false, "zero": false}, "axis": null}}},
  {"data": {"values": [{}]},
   "mark": {"type": "text", "text": "*", "font": "Open Sans", "fontSize": 62, "fontWeight": 800, "align": "center", "baseline": "alphabetic", "color": "#0536ff"},
   "encoding": {
     "x": {"datum": 186.2, "type": "quantitative", "scale": {"domain": [20,230,450], "range": [0,819,1089], "nice": false, "zero": false}, "axis": null},
     "y": {"datum": -0.0556, "type": "quantitative", "scale": {"domain": [-0.4858,1.4], "nice": false, "zero": false}, "axis": null}}},
  {"data": {"values": [{}]},
   "mark": {"type": "text", "text": "reach in the", "font": "Open Sans", "fontSize": 88, "fontWeight": 800, "align": "left", "baseline": "alphabetic", "color": "#0536ff"},
   "encoding": {
     "x": {"datum": 196.7, "type": "quantitative", "scale": {"domain": [20,230,450], "range": [0,819,1089], "nice": false, "zero": false}, "axis": null},
     "y": {"datum": -0.0311, "type": "quantitative", "scale": {"domain": [-0.4858,1.4], "nice": false, "zero": false}, "axis": null}}}
]
}
